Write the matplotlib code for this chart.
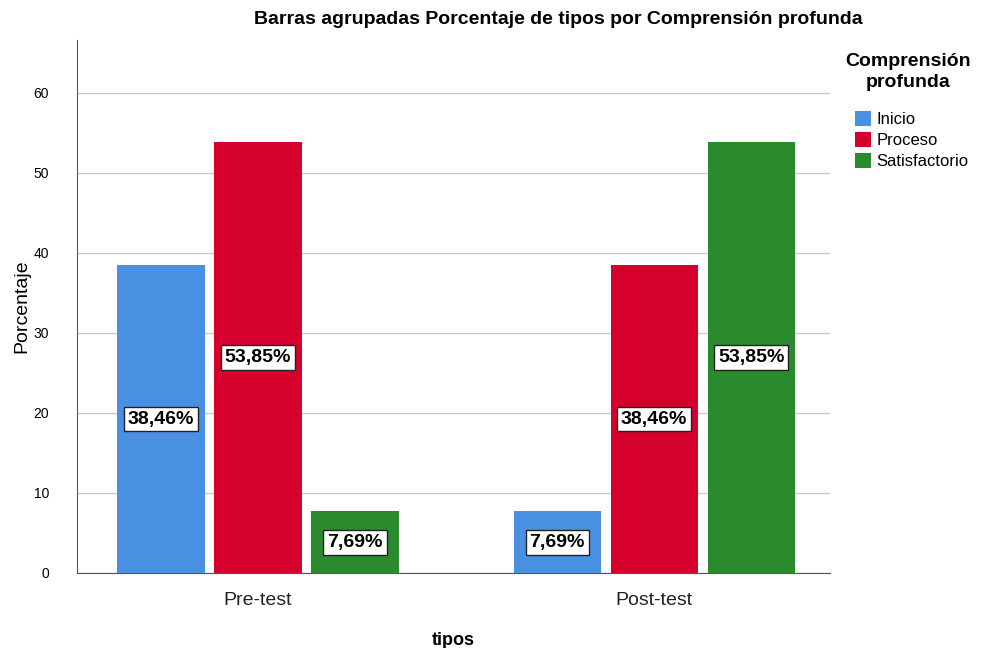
import matplotlib.pyplot as plt
import numpy as np

plt.rcParams['font.family'] = ['Liberation Sans', 'DejaVu Sans']

tipos = ['Pre-test', 'Post-test']
niveles = ['Inicio', 'Proceso', 'Satisfactorio']
porcentajes = {
    'Inicio': [38.46, 7.69],
    'Proceso': [53.85, 38.46],
    'Satisfactorio': [7.69, 53.85],
}
colores = ['#4a90e2', '#d6002d', '#2a8a2e']

fig = plt.figure(figsize=(9.89, 6.48), dpi=100)
ax = fig.add_axes([77 / 989, 1 - 573 / 648, 753 / 989, 533 / 648])

x = np.arange(len(tipos))
ancho = 0.22
paso = 0.245
for i, (nivel, color) in enumerate(zip(niveles, colores)):
    vals = porcentajes[nivel]
    pos = x + (i - 1) * paso
    ax.bar(pos, vals, ancho, color=color, label=nivel, zorder=3)
    for px, v in zip(pos, vals):
        ax.text(px, v / 2, f'{v:.2f}%'.replace('.', ','), ha='center', va='center',
                fontsize=14, fontweight='bold', zorder=4,
                bbox=dict(boxstyle='square,pad=0.2', fc='white', ec='#222222', lw=1))

ax.set_xlim(-0.457, 1.444)
ax.set_ylim(0, 66.6)
ax.set_yticks(range(0, 61, 10))
ax.set_xticks(x)
ax.set_xticklabels(tipos, fontsize=14, color='#222222')
ax.tick_params(axis='y', labelsize=10, length=0, pad=20)
ax.tick_params(axis='x', length=0, pad=14)
ax.grid(axis='y', color='#cccccc', lw=1, zorder=0)
for s in ['top', 'right']:
    ax.spines[s].set_visible(False)
ax.spines['left'].set_color('#555555')
ax.spines['bottom'].set_color('#555555')
ax.set_ylabel('Porcentaje', fontsize=14, labelpad=2)
ax.set_xlabel('tipos', fontsize=13, fontweight='bold', labelpad=16)

fig.text(558 / 989, 1 - 20 / 648, 'Barras agrupadas Porcentaje de tipos por Comprensión profunda',
         ha='center', va='center', fontsize=14, fontweight='bold')

fig.text(908 / 989, 1 - 72 / 648, 'Comprensión\nprofunda', ha='center', va='center',
         multialignment='center', fontsize=14, fontweight='bold', linespacing=1.25)
ax.legend(loc='upper left', bbox_to_anchor=(848 / 989, 1 - 104 / 648),
          bbox_transform=fig.transFigure, frameon=False, fontsize=12,
          handlelength=1.0, handleheight=1.0, handletextpad=0.3, labelspacing=0.3,
          borderaxespad=0)

fig.savefig('out.png', dpi=100)
